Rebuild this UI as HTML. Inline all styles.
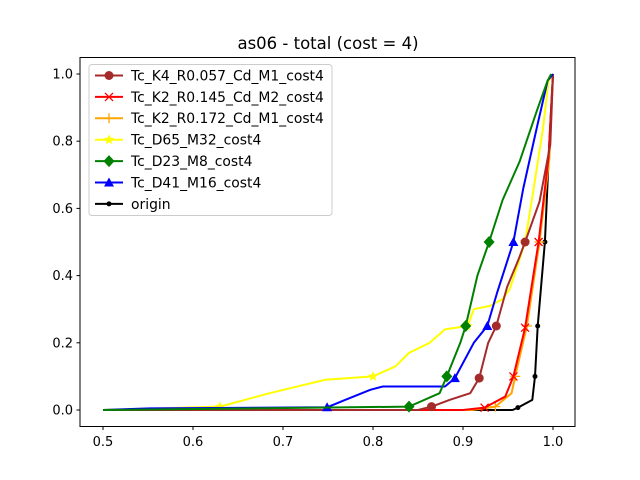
<!DOCTYPE html>
<html><head><meta charset="utf-8"><style>
body{margin:0;background:#fff;}
svg{display:block;font-family:"DejaVu Sans","Liberation Sans",sans-serif;}
</style></head><body>
<svg id="chart" width="640" height="480" xmlns="http://www.w3.org/2000/svg">
<rect width="640" height="480" fill="#fff"/>
<text x="328" y="49" text-anchor="middle" font-size="16.5">as06 - total (cost = 4)</text>
<g id="plot"></g>
<rect x="80" y="57.5" width="495" height="369" fill="none" stroke="#000" stroke-width="1"/>
<g id="axes"></g>
<g id="legend"></g>
</svg>
<script>
const xTicks=[0.5,0.6,0.7,0.8,0.9,1.0];
const xTickLabels=["0.5","0.6","0.7","0.8","0.9","1.0"];
const yTicks=[0,0.2,0.4,0.6,0.8,1.0];
const yTickLabels=["0.0","0.2","0.4","0.6","0.8","1.0"];
const seriesNames=["Tc_K4_R0.057_Cd_M1_cost4","Tc_K2_R0.145_Cd_M2_cost4","Tc_K2_R0.172_Cd_M1_cost4","Tc_D65_M32_cost4","Tc_D23_M8_cost4","Tc_D41_M16_cost4","origin"];
const seriesColors=["#a52a2a","#ff0000","#ffa500","#ffff00","#008000","#0000ff","#000000"];
const seriesMarkers=["circle","x","plus","star","diamond","triangle","dot"];
const brownX=[0.5,0.85,0.865,0.885,0.908,0.918,0.928,0.937,0.949,0.962,0.969,0.985,0.997,1.0];
const brownY=[0,0,0.01,0.03,0.05,0.095,0.2,0.25,0.366,0.45,0.5,0.62,0.79,1.0];
const brownM=[2,5,7,10];
const redX=[0.5,0.9,0.924,0.947,0.956,0.969,0.984,0.995,1.0];
const redY=[0,0,0.007,0.04,0.1,0.245,0.5,0.75,1.0];
const redM=[2,4,5,6];
const orangeX=[0.5,0.91,0.936,0.954,0.958,0.971,0.985,0.996,1.0];
const orangeY=[0,0,0.01,0.05,0.1,0.25,0.5,0.75,1.0];
const orangeM=[2,4,5,6];
const yellowX=[0.5,0.63,0.685,0.747,0.8,0.825,0.84,0.863,0.88,0.905,0.908,0.912,0.93,0.944,0.952,0.963,0.969,0.978,0.989,0.995,1.0];
const yellowY=[0,0.01,0.05,0.09,0.1,0.13,0.17,0.2,0.24,0.25,0.27,0.3,0.31,0.33,0.36,0.45,0.5,0.65,0.84,0.98,1.0];
const yellowM=[1,4,9,16];
const greenX=[0.5,0.84,0.874,0.882,0.897,0.903,0.916,0.929,0.944,0.963,0.982,0.994,0.998];
const greenY=[0,0.01,0.05,0.1,0.2,0.25,0.4,0.5,0.625,0.74,0.89,0.98,1.0];
const greenM=[1,3,5,7];
const blueX=[0.5,0.552,0.749,0.769,0.797,0.811,0.88,0.891,0.902,0.912,0.927,0.938,0.956,0.967,0.982,0.994,1.0];
const blueY=[0,0.005,0.008,0.03,0.06,0.07,0.07,0.095,0.15,0.2,0.25,0.35,0.5,0.66,0.84,0.98,1.0];
const blueM=[2,7,10,12];
const blackX=[0.5,0.955,0.961,0.977,0.98,0.983,0.991,0.996,1.0];
const blackY=[0,0,0.007,0.03,0.1,0.25,0.5,0.8,1.0];
const blackM=[2,4,5,6];
const allX=[brownX,redX,orangeX,yellowX,greenX,blueX,blackX];
const allY=[brownY,redY,orangeY,yellowY,greenY,blueY,blackY];
const allM=[brownM,redM,orangeM,yellowM,greenM,blueM,blackM];
const drawOrder=[6,3,2,1,0,5,4];

const NS="http://www.w3.org/2000/svg";
const sx=v=>103+(v-0.5)*900;
const sy=v=>410-v*336;
function mk(tag,attrs,parent){const e=document.createElementNS(NS,tag);for(const k in attrs)e.setAttribute(k,attrs[k]);parent.appendChild(e);return e;}
function marker(type,x,y,c,parent,scale){
  const s=scale||1;let e;
  if(type==="circle")e=mk("circle",{cx:x,cy:y,r:4.5*s,fill:c},parent);
  else if(type==="dot")e=mk("circle",{cx:x,cy:y,r:2.5*s,fill:c},parent);
  else if(type==="diamond")e=mk("polygon",{points:`${x},${y-6*s} ${x+5.5*s},${y} ${x},${y+6*s} ${x-5.5*s},${y}`,fill:c},parent);
  else if(type==="triangle")e=mk("polygon",{points:`${x},${y-5*s} ${x+5*s},${y+4*s} ${x-5*s},${y+4*s}`,fill:c},parent);
  else if(type==="x")e=mk("path",{d:`M${x-4*s},${y-4*s}L${x+4*s},${y+4*s}M${x-4*s},${y+4*s}L${x+4*s},${y-4*s}`,stroke:c,"stroke-width":1.3,fill:"none"},parent);
  else if(type==="plus")e=mk("path",{d:`M${x-5*s},${y}L${x+5*s},${y}M${x},${y-5*s}L${x},${y+5*s}`,stroke:c,"stroke-width":1.3,fill:"none"},parent);
  else if(type==="star"){let p=[];for(let i=0;i<10;i++){const r=(i%2?2.4:5.5)*s,a=-Math.PI/2+i*Math.PI/5;p.push((x+r*Math.cos(a)).toFixed(2)+","+(y+r*Math.sin(a)).toFixed(2));}e=mk("polygon",{points:p.join(" "),fill:c},parent);}
  return e;
}
const plot=document.getElementById("plot");
drawOrder.forEach(i=>{
  const g=mk("g",{},plot);
  
  
  const pts=allX[i].map((v,j)=>sx(v).toFixed(2)+","+sy(allY[i][j]).toFixed(2)).join(" ");
  const pl=mk("polyline",{points:pts,fill:"none",stroke:seriesColors[i],"stroke-width":2,"stroke-linejoin":"round"},g);
  
  
  allM[i].forEach(j=>{
    const m=marker(seriesMarkers[i],sx(allX[i][j]),sy(allY[i][j]),seriesColors[i],g);
    
    
  });
});
const axes=document.getElementById("axes");
xTicks.forEach((v,i)=>{
  const x=sx(v);
  const t=mk("line",{x1:x,x2:x,y1:426.5,y2:430,stroke:"#000"},axes);
  
  
  const l=mk("text",{x:x,y:446,"text-anchor":"middle","font-size":"13"},axes);
  l.textContent=xTickLabels[i];
  
  
});
yTicks.forEach((v,i)=>{
  const y=sy(v);
  const t=mk("line",{x1:76.5,x2:80,y1:y,y2:y,stroke:"#000"},axes);
  
  
  const l=mk("text",{x:73,y:y+4.5,"text-anchor":"end","font-size":"13"},axes);
  l.textContent=yTickLabels[i];
  
  
});
const leg=document.getElementById("legend");
const box=mk("rect",{x:89,y:64.5,width:243,height:151,rx:3,fill:"#fff","fill-opacity":0.8,stroke:"#ccc"},leg);


seriesNames.forEach((n,i)=>{
  const y=75.5+i*21.4;
  const g=mk("g",{},leg);
  
  
  mk("line",{x1:95,x2:123,y1:y,y2:y,stroke:seriesColors[i],"stroke-width":2},g);
  marker(seriesMarkers[i],109,y,seriesColors[i],g);
  const t=mk("text",{x:131,y:y+4.9,"font-size":"13.9"},g);
  t.textContent=n;
});
</script>
</body></html>
